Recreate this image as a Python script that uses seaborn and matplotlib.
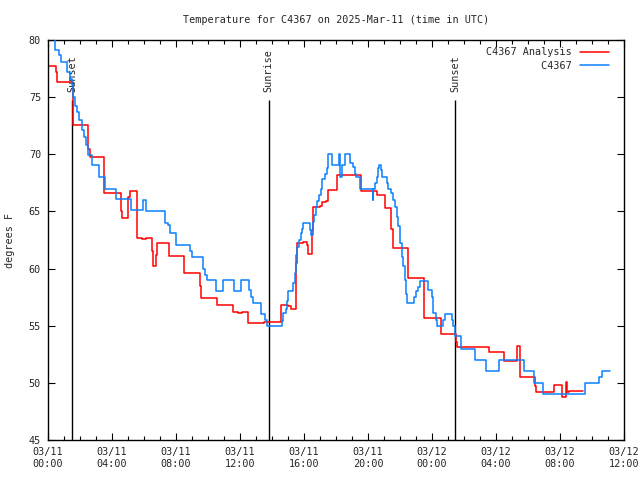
import matplotlib
matplotlib.use('Agg')
import matplotlib.pyplot as plt
import seaborn as sns
import pandas as pd
from matplotlib.ticker import MultipleLocator

# hours since 03/11 00:00 UTC
obs_hours = [0.375, 0.46, 0.71, 0.83, 1.17, 1.375, 1.48, 1.58, 1.69, 1.83, 1.96,
             2.1, 2.25, 2.375, 2.52, 2.73, 3.2, 3.56, 4.25, 5.17, 5.96, 6.125,
             7.31, 7.52, 7.625, 8.0, 8.875, 8.98, 9.71, 9.81, 9.96, 10.48, 10.92,
             11.625, 12.04, 12.58, 12.7, 12.8, 13.29, 13.56, 13.71, 14.6, 14.67,
             14.875, 14.92, 15.02, 15.33, 15.44, 15.5, 15.58, 15.71, 15.79, 15.85,
             15.96, 16.375, 16.42, 16.54, 16.625, 16.75, 16.83, 16.96, 17.04,
             17.14, 17.31, 17.42, 17.52, 17.73, 18.17, 18.25, 18.36, 18.56,
             18.875, 19.04, 19.19, 19.25, 19.5, 20.3, 20.33, 20.44, 20.54, 20.64,
             20.71, 20.79, 20.85, 21.17, 21.27, 21.42, 21.54, 21.69, 21.79, 21.9,
             22.0, 22.1, 22.2, 22.31, 22.375, 22.46, 22.875, 23.0, 23.15, 23.25,
             23.77, 23.98, 24.08, 24.25, 24.33, 24.71, 24.81, 25.23, 25.29, 25.44,
             25.79, 26.69, 27.375, 28.2, 29.75, 30.375, 30.92, 33.56, 34.46, 34.6,
             35.125]
obs_temps = [80.5, 79.1, 78.7, 78.1, 77.2, 76.6, 76.1, 75.0, 74.2, 73.7, 73.0,
             72.1, 71.5, 70.8, 69.9, 69.1, 68.0, 67.0, 66.1, 65.1, 66.0, 65.0,
             64.0, 63.8, 63.1, 62.1, 61.5, 61.0, 60.0, 59.4, 59.0, 58.0, 59.0,
             58.0, 59.0, 58.1, 57.5, 57.0, 56.0, 55.5, 55.0, 55.4, 56.1,
             56.5, 57.2, 58.0, 58.7, 59.6, 61.2, 61.9, 62.5, 63.1, 63.5,
             64.0, 63.4, 62.9, 64.1, 64.7, 65.4, 65.9, 66.4, 67.0,
             67.8, 68.3, 68.8, 70.0, 69.1, 70.0, 68.0, 69.1, 70.0,
             69.2, 68.9, 68.3, 68.0, 67.0, 66.0, 67.0, 67.5, 68.0, 68.8,
             69.1, 68.6, 68.0, 67.5, 67.0, 66.6, 66.0, 65.4, 64.5, 63.7,
             62.2, 61.0, 60.2, 59.0, 57.8, 57.0, 57.5, 58.0, 58.4, 58.9,
             58.1, 57.5, 56.1, 55.5, 55.0, 55.5, 56.0, 55.5, 55.0, 54.1,
             53.0, 52.0, 51.0, 52.0, 51.0, 50.0, 49.0, 50.0, 50.5, 51.0,
             51.0]

ana_hours = [0.0, 0.5, 0.58, 1.54, 2.5, 2.62, 3.5, 4.54, 4.6, 5.02, 5.125, 5.54,
             5.58, 5.85, 6.125, 6.48, 6.54, 6.75, 6.79, 7.54, 8.52, 9.52, 9.54,
             10.54, 11.54, 11.9, 12.15, 12.52, 13.5, 14.54, 15.02, 15.19, 15.5,
             15.54, 15.92, 16.2, 16.27, 16.52, 16.54, 17.0, 17.1, 17.375, 17.52,
             18.04, 19.54, 20.54, 21.06, 21.42, 21.54, 22.52, 23.5, 24.54, 25.48,
             25.54, 27.58, 28.52, 29.29, 29.5, 30.44, 30.5, 31.64, 32.12, 32.375,
             32.46, 32.58, 33.46]
ana_temps = [77.7, 77.2, 76.3, 72.6, 70.5, 69.8, 66.6, 65.0, 64.4, 66.3, 66.8, 65.7,
             62.7, 62.6, 62.7, 61.5, 60.2, 61.2, 62.2, 61.1, 59.6, 58.5, 57.4,
             56.8, 56.2, 56.1, 56.2, 55.2, 55.3, 56.8, 56.7, 56.5, 60.5,
             62.2, 62.3, 62.1, 61.3, 63.4, 65.4, 65.5, 65.8, 65.9, 66.9,
             68.2, 66.8, 66.4, 65.3, 63.5, 61.8, 59.2, 55.7, 54.3, 53.6,
             53.1, 52.7, 51.9, 53.2, 50.5, 49.7, 49.2, 49.8, 48.8, 50.1,
             49.2, 49.3, 49.3]

event_hours = [1.5, 13.8, 25.45]
event_names = ['Sunset', 'Sunrise', 'Sunset']
event_top = 74.75

tick_hours = [0, 4, 8, 12, 16, 20, 24, 28, 32, 36]
tick_labels = ['03/11\n00:00', '03/11\n04:00', '03/11\n08:00', '03/11\n12:00',
               '03/11\n16:00', '03/11\n20:00', '03/12\n00:00', '03/12\n04:00',
               '03/12\n08:00', '03/12\n12:00']

sns.set_style('ticks')
plt.rcParams['font.family'] = ['DejaVu Sans Mono']
plt.rcParams['font.size'] = 7.3
fs = 7.3

obs_df = pd.DataFrame({'hour': obs_hours, 'temp': obs_temps})
ana_df = pd.DataFrame({'hour': ana_hours, 'temp': ana_temps})

fig = plt.figure(figsize=(6.4, 4.8), dpi=100)
ax = fig.add_axes([48 / 640, 40 / 480, 576 / 640, 400 / 480])

# sunrise / sunset markers
ax.vlines(event_hours, 45, event_top, color='black', lw=1, zorder=1)
for h, name in zip(event_hours, event_names):
    ax.text(h, 75.45, name, rotation=90, ha='center', va='bottom', fontsize=fs)

sns.lineplot(data=ana_df, x='hour', y='temp', color='#ff0000', lw=1.1,
             drawstyle='steps-post', estimator=None, sort=False,
             label='C4367 Analysis', ax=ax, zorder=2)
sns.lineplot(data=obs_df, x='hour', y='temp', color='#0a80ff', lw=1.1,
             drawstyle='steps-post', estimator=None, sort=False,
             label='         C4367', ax=ax, zorder=3)

ax.set_xlim(0, 36)
ax.set_ylim(45, 80)
ax.set_xticks(tick_hours)
ax.set_xticklabels(tick_labels, fontsize=fs)
ax.xaxis.set_minor_locator(MultipleLocator(1))
ax.set_yticks(range(45, 81, 5))
ax.tick_params(which='both', direction='in', top=True, right=True, color='black',
               width=0.8, labelsize=fs)
ax.tick_params(which='major', length=5, pad=5)
ax.tick_params(which='minor', length=3)
for side in ax.spines.values():
    side.set_color('black')
    side.set_linewidth(1)

ax.set_xlabel('')
ax.set_ylabel('degrees F', fontsize=fs)
ax.yaxis.set_label_coords(-0.058, 0.5)
ax.set_title('Temperature for C4367 on 2025-Mar-11 (time in UTC)', fontsize=fs, pad=12)

ax.legend(loc='upper right', bbox_to_anchor=(1 - 8 / 576, 1), frameon=False,
          markerfirst=False, handlelength=2.9, handletextpad=0.8,
          borderaxespad=0.3, labelspacing=0.35, fontsize=fs)

fig.savefig('out.png', dpi=100)
